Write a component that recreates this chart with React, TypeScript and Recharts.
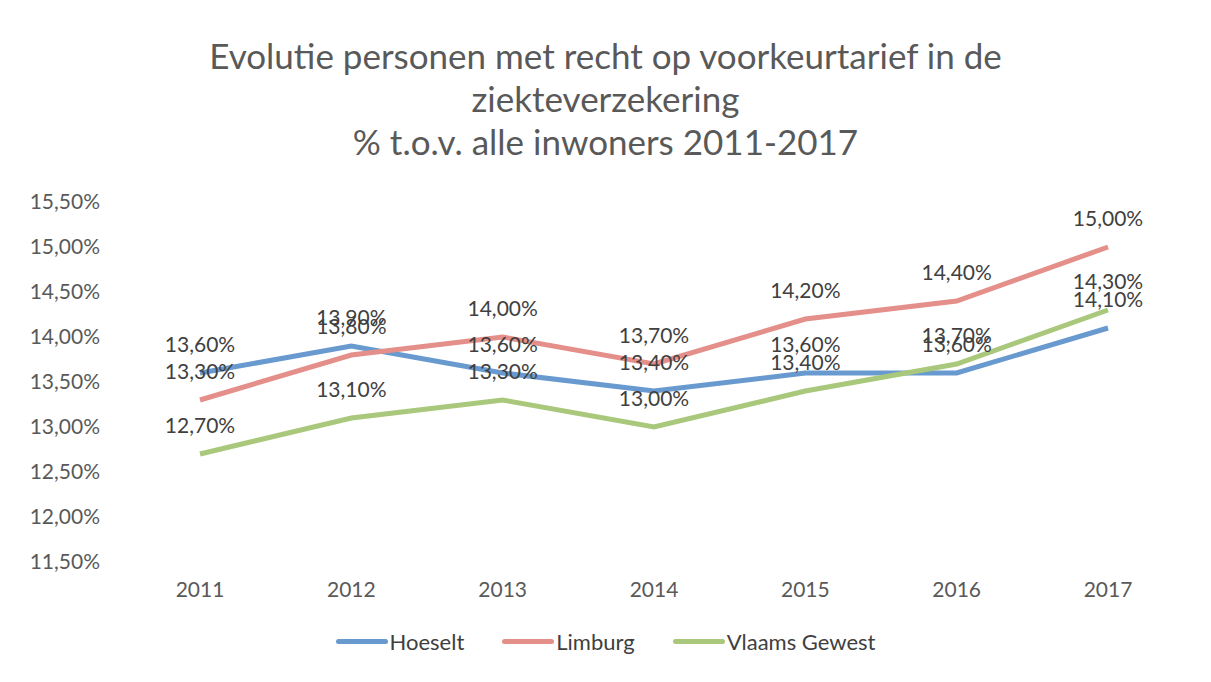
import { LineChart, Line, XAxis, YAxis, LabelList } from 'recharts';

const years = ['2011', '2012', '2013', '2014', '2015', '2016', '2017'];
const hoeselt = [13.6, 13.9, 13.6, 13.4, 13.6, 13.6, 14.1];
const limburg = [13.3, 13.8, 14.0, 13.7, 14.2, 14.4, 15.0];
const vlaams = [12.7, 13.1, 13.3, 13.0, 13.4, 13.7, 14.3];
const yTicks = [11.5, 12, 12.5, 13, 13.5, 14, 14.5, 15, 15.5];

const seriesInfo = [
  { key: 'Hoeselt', color: '#6899cf' },
  { key: 'Limburg', color: '#e48f89' },
  { key: 'Vlaams Gewest', color: '#a9c87c' },
];

const data = years.map((y, i) => ({
  year: y,
  Hoeselt: hoeselt[i],
  Limburg: limburg[i],
  'Vlaams Gewest': vlaams[i],
}));

const font = 'Lato, "Open Sans", sans-serif';
const pct = (v: any) => Number(v).toFixed(2).replace('.', ',') + '%';

const LegendBox = () => (
  <div
    style={{
      display: 'flex',
      justifyContent: 'center',
      gap: 38,
      fontFamily: font,
      fontSize: 22,
      color: '#404040',
    }}
  >
    {seriesInfo.map((s) => (
      <div key={s.key} style={{ display: 'flex', alignItems: 'center' }}>
        <div style={{ width: 52, height: 5, borderRadius: 3, background: s.color }} />
        <span style={{ marginLeft: 2 }}>{s.key}</span>
      </div>
    ))}
  </div>
);

export default function App() {
  return (
    <div style={{ position: 'absolute', left: 0, top: 0, width: 1211, height: 682, background: '#fff' }}>
      <div
        style={{
          position: 'absolute',
          top: 34,
          left: 0,
          width: 1211,
          textAlign: 'center',
          fontFamily: font,
          fontSize: 35,
          lineHeight: '43px',
          color: '#595959',
        }}
      >
        Evolutie personen met recht op voorkeurtarief in de
        <br />
        ziekteverzekering
        <br />% t.o.v. alle inwoners 2011-2017
      </div>
      <LineChart
        width={1211}
        height={682}
        data={data}
        margin={{ top: 202, right: 27, left: 0, bottom: 80 }}
      >
        <XAxis
          dataKey="year"
          axisLine={false}
          tickLine={false}
          padding={{ left: 76, right: 76 }}
          tick={{ fill: '#595959', fontSize: 21, fontFamily: font }}
          tickSize={0}
          tickMargin={20}
          height={40}
        />
        <YAxis
          width={124}
          domain={[11.5, 15.5]}
          ticks={yTicks}
          axisLine={false}
          tickLine={false}
          tickSize={0}
          tickMargin={24}
          tickFormatter={pct}
          tick={{ fill: '#595959', fontSize: 21, fontFamily: font }}
        />
        {seriesInfo.map((s) => (
          <Line
            key={s.key}
            dataKey={s.key}
            stroke={s.color}
            strokeWidth={5}
            dot={false}
            type="linear"
            isAnimationActive={false}
          >
            <LabelList
              dataKey={s.key}
              position="top"
              offset={21}
              formatter={pct}
              style={{ fill: '#404040', fontSize: 21, fontFamily: font }}
            />
          </Line>
        ))}
      </LineChart>
      <div style={{ position: 'absolute', top: 628, left: 0, width: 1211 }}>
        <LegendBox />
      </div>
    </div>
  );
}
